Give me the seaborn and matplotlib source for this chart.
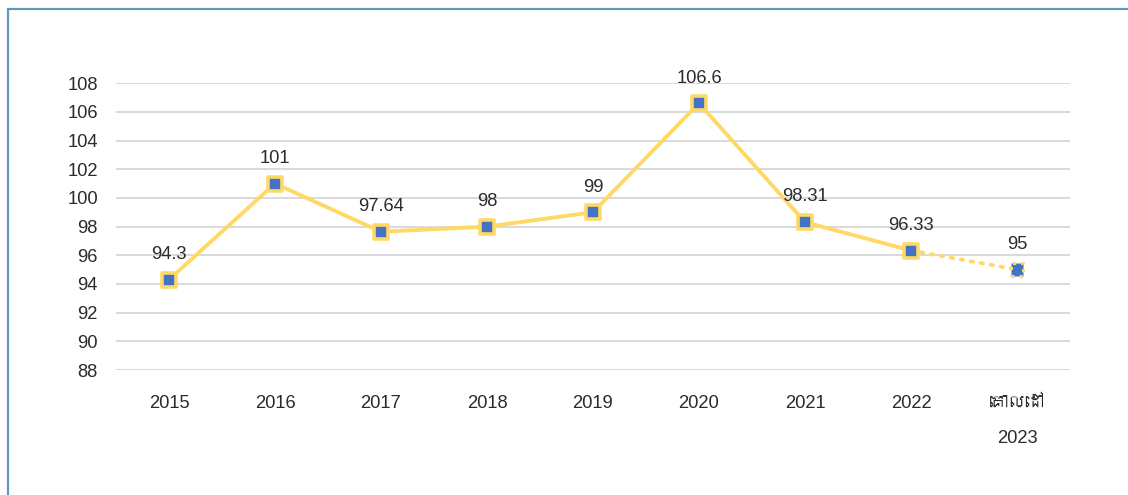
import matplotlib
matplotlib.use("Agg")
import matplotlib.pyplot as plt
from matplotlib import font_manager
from matplotlib.lines import Line2D
import seaborn as sns
import pandas as pd

categories = ["2015", "2016", "2017", "2018", "2019", "2020", "2021", "2022", "គោលដៅ\n2023"]
values = [94.3, 101, 97.64, 98, 99, 106.6, 98.31, 96.33, 95]
value_labels = ["94.3", "101", "97.64", "98", "99", "106.6", "98.31", "96.33", "95"]
y_ticks = [88, 90, 92, 94, 96, 98, 100, 102, 104, 106, 108]

sns.set_theme(style="white")


def find_khmer_family():
    """Return an installed family that covers Khmer script, if any."""
    try:
        from fontTools.ttLib import TTFont
    except Exception:
        return None
    seen = set()
    for fe in font_manager.fontManager.ttflist:
        if fe.fname in seen:
            continue
        seen.add(fe.fname)
        try:
            tt = TTFont(fe.fname, fontNumber=0, lazy=True)
            cmap = tt.getBestCmap() or {}
            if 0x1782 in cmap and 0x17C4 in cmap:
                return fe.name
        except Exception:
            continue
    return None


khmer = find_khmer_family()
families = ["Liberation Sans", "DejaVu Sans"]
if khmer:
    families.insert(1, khmer)
plt.rcParams["font.family"] = families

YELLOW = "#FFD966"
BLUE = "#4472C4"
TEXT = "#2B2B2B"
FS = 13.2

df = pd.DataFrame({"category": categories, "value": values})
df["x"] = range(len(df))

fig = plt.figure(figsize=(11.28, 4.95), dpi=100)
ax = fig.add_axes([0.1028, 0.2525, 0.8458, 0.5795])

# solid line through the actual years
sns.lineplot(data=df.iloc[:-1], x="x", y="value", ax=ax, color=YELLOW,
             linewidth=2.8, zorder=2)
# dotted continuation to the target
sns.lineplot(data=df.iloc[-2:], x="x", y="value", ax=ax, color=YELLOW,
             linewidth=2.8, linestyle=(0, (0.6, 2.0)), dash_capstyle="round",
             zorder=2)

# markers
ax.scatter(df["x"][:-1], df["value"][:-1], marker="s", s=90, c=BLUE,
           edgecolors=YELLOW, linewidths=2.6, zorder=3)
ax.scatter(df["x"][-1:], df["value"][-1:], marker="s", s=80, c=BLUE,
           edgecolors=YELLOW, linewidths=2.2, linestyle=":", zorder=3)

for xi, v, lab in zip(df["x"], df["value"], value_labels):
    ax.annotate(lab, (xi, v), xytext=(0, 12), textcoords="offset points",
                ha="center", va="bottom", fontsize=FS, color=TEXT)

ax.set_xlim(-0.5, len(categories) - 0.5)
ax.set_ylim(88, 108)
ax.set_yticks(y_ticks)
ax.set_yticklabels([str(t) for t in y_ticks])
ax.set_xticks(df["x"])
ax.set_xticklabels(categories, linespacing=2.35)
ax.tick_params(axis="both", length=0, labelsize=FS, labelcolor=TEXT)
ax.tick_params(axis="y", pad=13)
ax.tick_params(axis="x", pad=18)
for lbl in ax.get_xticklabels():
    lbl.set_verticalalignment("top")
ax.set_xlabel("")
ax.set_ylabel("")
ax.grid(axis="y", color="#D9D9D9", linewidth=1.4)
ax.grid(axis="x", visible=False)
for s in ax.spines.values():
    s.set_visible(False)

# outer frame: left and top edges only
W, H = 1128, 495
fig.add_artist(Line2D([8 / W, 8 / W], [0, 1 - 9 / H], transform=fig.transFigure,
                      color="#5B9DB6", linewidth=1.6))
fig.add_artist(Line2D([8 / W, 1], [1 - 9 / H, 1 - 9 / H], transform=fig.transFigure,
                      color="#5B9DB6", linewidth=1.6))

fig.savefig("out.png", dpi=100)
